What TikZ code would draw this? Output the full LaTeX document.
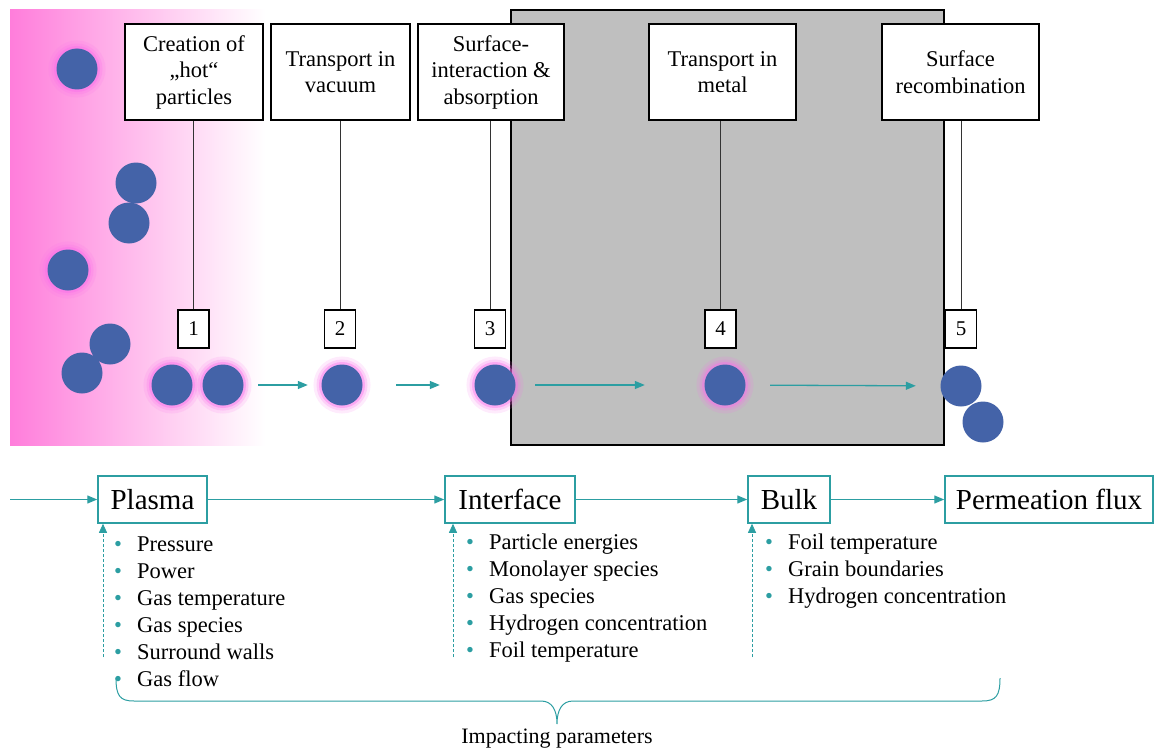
\documentclass[tikz,border=0pt]{standalone}
\usepackage{fontspec}
\setmainfont{Liberation Serif}
\usepackage{xcolor}
\usepackage{tikz}
\usetikzlibrary{calc, arrows.meta}
\definecolor{flowteal}{RGB}{44,158,162}
\definecolor{particleblue}{RGB}{68,99,168}
\definecolor{foilgrey}{RGB}{191,191,191}
\definecolor{plasmapink}{RGB}{255,125,219}
\definecolor{glowpink}{RGB}{250,110,235}
\tikzstyle{stagebox}  = [rectangle, draw=black, line width=1.3pt, fill=white, minimum height=96pt, align=center, font=\fontsize{22.5}{26.5}\selectfont]
\tikzstyle{numbox}    = [rectangle, draw=black, line width=1.3pt, fill=white, minimum width=31pt, minimum height=38pt, font=\fontsize{21}{25}\selectfont]
\tikzstyle{leader}    = [draw=black!80, line width=0.8pt]
\tikzstyle{particle}  = [circle, fill=particleblue, minimum size=41pt, inner sep=0pt]
\tikzstyle{hot}       = [particle, preaction={draw=glowpink, line width=16pt, opacity=.14}, preaction={draw=glowpink, line width=10pt, opacity=.22}, preaction={draw=glowpink, line width=5pt, opacity=.4}]
\tikzstyle{arrow}     = [draw=flowteal, line width=1.3pt, -{Triangle[length=10pt, width=8pt]}]
\tikzstyle{flowbox}   = [rectangle, draw=flowteal, line width=1.5pt, fill=white, minimum height=47pt, text height=20pt, text depth=0pt, font=\fontsize{29}{34}\selectfont]
\tikzstyle{paramarrow}= [draw=flowteal, line width=0.8pt, densely dashed, -{Triangle[length=9pt, width=8pt]}]
\tikzstyle{paramlist} = [align=left, inner sep=0pt, anchor=north west, font=\fontsize{22.5}{27}\selectfont]
\tikzstyle{bracepath} = [draw=flowteal, line width=1pt]
\newcommand{\itm}{\makebox[23pt][l]{\textcolor{flowteal}{\textbullet}}}

\begin{document}
\begin{tikzpicture}[x=1pt, y=-1pt]
    \useasboundingbox (0,0) rectangle (1155,749);

    \shade [left color=plasmapink, middle color=plasmapink!24!white, right color=white] (10,10) rectangle (265,445);
    \draw [line width=1.3pt, fill=foilgrey] (511,10) rectangle (944,445);

    \node (creation) [stagebox, minimum width=138pt] at (194,72)   {Creation of\\„hot“\\particles};
    \node (vacuum)   [stagebox, minimum width=139pt] at (340.5,72) {Transport in\\vacuum};
    \node (absorb)   [stagebox, minimum width=146pt] at (491,72)   {Surface-\\interaction \&\\absorption};
    \node (metal)    [stagebox, minimum width=147pt] at (722.5,72) {Transport in\\metal};
    \node (recomb)   [stagebox, minimum width=157pt] at (960.5,72) {Surface\\recombination};

    \node (num1) [numbox] at (193.5,329) {1};
    \node (num2) [numbox] at (340,329)   {2};
    \node (num3) [numbox] at (490,329)   {3};
    \node (num4) [numbox] at (720.5,329) {4};
    \node (num5) [numbox] at (961,329)   {5};

    \draw [leader] (num1.north) -- (num1.north |- creation.south);
    \draw [leader] (num2.north) -- (num2.north |- vacuum.south);
    \draw [leader] (num3.north) -- (num3.north |- absorb.south);
    \draw [leader] (num4.north) -- (num4.north |- metal.south);
    \draw [leader] (num5.north) -- (num5.north |- recomb.south);

    \node (free1) [hot]      at (77,69)   {};
    \node (free2) [particle] at (136,183) {};
    \node (free3) [particle] at (129,223) {};
    \node (free4) [hot]      at (68,270)  {};
    \node (free5) [particle] at (110,344) {};
    \node (free6) [particle] at (82,373)  {};
    \node (hotA)  [hot]      at (172,385) {};
    \node (hotB)  [hot]      at (223,385) {};
    \node (vac)   [hot]      at (342,385) {};
    \node (surf)  [hot]      at (495,385) {};
    \node (inner) [hot]      at (725,385) {};
    \node (recA)  [particle] at (961,386) {};
    \node (recB)  [particle] at (983,422) {};

    \draw [arrow, shorten <=14.5pt, shorten >=13.5pt] (hotB)  -- (vac);
    \draw [arrow, shorten <=33.5pt, shorten >=34.5pt] (vac)   -- (surf);
    \draw [arrow, shorten <=19.5pt, shorten >=59.5pt] (surf)  -- (inner);
    \draw [arrow, shorten <=24.5pt, shorten >=24.5pt] (inner) -- (recA);

    \coordinate (inflow) at (10,499.5);
    \node (plasma)    [flowbox, minimum width=109pt] at (152.5,499.5) {Plasma};
    \node (interface) [flowbox, minimum width=130pt] at (510,499.5)   {Interface};
    \node (bulk)      [flowbox, minimum width=82pt]  at (789,499.5)   {Bulk};
    \node (perm)      [flowbox, minimum width=208pt] at (1049,499.5)  {Permeation flux};

    \draw [arrow] (inflow)    -- (plasma);
    \draw [arrow] (plasma)    -- (interface);
    \draw [arrow] (interface) -- (bulk);
    \draw [arrow] (bulk)      -- (perm);

    \coordinate (plasmaP)    at (103,657);
    \coordinate (interfaceP) at (453,657);
    \coordinate (bulkP)      at (752,657);
    \draw [paramarrow] (plasmaP)    -- (plasmaP |- plasma.south);
    \draw [paramarrow] (interfaceP) -- (interfaceP |- interface.south);
    \draw [paramarrow] (bulkP)      -- (bulkP |- bulk.south);

    \node (plasmalist) [paramlist] at (114,537)
      {\itm Pressure\\\itm Power\\\itm Gas temperature\\\itm Gas species\\\itm Surround walls\\\itm Gas flow};
    \node (interfacelist) [paramlist] at (466,534)
      {\itm Particle energies\\\itm Monolayer species\\\itm Gas species\\\itm Hydrogen concentration\\\itm Foil temperature};
    \node (bulklist) [paramlist] at (765,534)
      {\itm Foil temperature\\\itm Grain boundaries\\\itm Hydrogen concentration};

    \coordinate (braceL) at (116,678);
    \coordinate (braceT) at (557,724);
    \coordinate (braceR) at (1000,678);
    \draw [bracepath] (braceL) .. controls (116,696) and (120,701) .. (134,701) -- (541,701)
      .. controls (552,701) and (557,710) .. (braceT)
      .. controls (557,710) and (562,701) .. (573,701) -- (982,701)
      .. controls (996,701) and (1000,696) .. (braceR);
    \node (impact) [anchor=base, font=\fontsize{22}{26}\selectfont] at (557,743) {Impacting parameters};

\end{tikzpicture}
\end{document}
